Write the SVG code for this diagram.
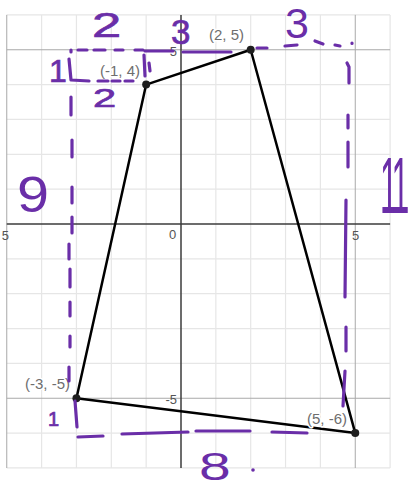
<svg xmlns="http://www.w3.org/2000/svg" width="409" height="489" viewBox="0 0 409 489">
<style>
.minor{stroke:#e6e6e6;stroke-width:1.2;fill:none}
.major{stroke:#a9a9a9;stroke-width:1;fill:none}
.axis{stroke:#3c3c3c;stroke-width:1.5;fill:none}
.tick{font-family:"Liberation Sans",Arial,sans-serif;font-size:13px;fill:#555}
.edge{stroke:#000;stroke-width:2.5;fill:none;stroke-linecap:round}
.pt{fill:#1e1e1e}
.lbl{font-family:"Liberation Sans",Arial,sans-serif;font-size:15px;fill:#6e6e6e;text-anchor:end;stroke:#fff;stroke-width:3;paint-order:stroke;stroke-linejoin:round}
.pen{stroke:#6a2ea8;stroke-width:3.2;fill:none;stroke-linecap:round;stroke-linejoin:round}
.hw{font-family:"Liberation Sans",Arial,sans-serif;fill:#6a2ea8}
.hs{stroke:#6a2ea8;stroke-width:0.7}
</style>
<rect width="409" height="489" fill="#fff"/>
<g id="grid">
<path class="minor" d="M41.6 14.9V468M111.3 14.9V468M146.15 14.9V468M215.85 14.9V468M250.7 14.9V468M285.55 14.9V468M320.4 14.9V468M390.1 14.9V468M76.45 14.9V468"/>
<path class="minor" d="M6.75 14.9H390.1M6.75 84.6H390.1M6.75 119.45H390.1M6.75 154.3H390.1M6.75 189.15H390.1M6.75 258.85H390.1M6.75 293.7H390.1M6.75 328.55H390.1M6.75 363.4H390.1M6.75 433.1H390.1M6.75 467.95H390.1"/>
<path class="major" d="M6.75 14.9V468M355.25 14.9V468M6.75 49.75H390.1M6.75 398.25H390.1"/>
<path class="axis" d="M181 14.9V468M6.75 224H390.1"/>
<text class="tick" x="9" y="240" text-anchor="end">5</text>
<text class="tick" x="172.5" y="239" text-anchor="middle">0</text>
<text class="tick" x="355.5" y="240" text-anchor="middle">5</text>
<text class="tick" x="177" y="56" text-anchor="end">5</text>
<text class="tick" x="177" y="404" text-anchor="end">-5</text>
</g>
<g id="connectors">
<line class="edge" x1="146.15" y1="84.6" x2="250.7" y2="49.75"/>
<line class="edge" x1="250.7" y1="49.75" x2="355.25" y2="433.1"/>
<line class="edge" x1="355.25" y1="433.1" x2="76.45" y2="398.25"/>
<line class="edge" x1="76.45" y1="398.25" x2="146.15" y2="84.6"/>
</g>
<g id="node-A">
<circle class="pt" cx="250.7" cy="49.75" r="4"/>
<text class="lbl" x="244" y="40">(2, 5)</text>
</g>
<g id="node-B">
<circle class="pt" cx="146.15" cy="84.6" r="4"/>
<text class="lbl" x="140" y="76">(-1, 4)</text>
</g>
<g id="node-C">
<circle class="pt" cx="76.45" cy="398.25" r="4"/>
<text class="lbl" x="70" y="389">(-3, -5)</text>
</g>
<g id="node-D">
<circle class="pt" cx="355.25" cy="433.1" r="4"/>
<text class="lbl" x="347" y="424">(5, -6)</text>
</g>
<g id="annotations">
<path class="pen" d="M71 50V52M78 50H87M94 50H105M115 50H123M135 50H143M145 51H173M183 52H231M144 55L145 76M149 63L150 71M257 48H267M285 46L297 45M315 41L323 44M335 45L340 46M352 43V43.5"/>
<path class="pen" d="M69 59L71 80L89 81M98 81H108M112 81H120M125 81H133"/>
<path class="pen" d="M71 97V115M72 140V157M72 187V203M72 217V233M69 244V259M70 269V287M70 302V316M70 336V347M69 367V381M75 401L77 427M78 437L103 436M122 434L188 432M196 431L250 431M272 432L307 433"/>
<path class="pen" d="M347 63L349 67V83M348 115V128M348 142V167M346 200L345 297M346 327V351M345 371L343 406"/>
<circle cx="253" cy="470" r="1.8" fill="#6a2ea8"/>
<text class="hw hs" font-size="35" transform="translate(92,37) scale(1.5,1)">2</text>
<text class="hw hs" font-size="35" transform="translate(171,44)">3</text>
<text class="hw" font-size="43" transform="translate(285,38)">3</text>
<text class="hw hs" font-size="26" transform="translate(93,107) scale(1.6,1)">2</text>
<text class="hw hs" font-size="32" x="49" y="82">1</text>
<text class="hw" font-size="50" transform="translate(17,212) scale(1.15,1)">9</text>
<text class="hw" font-size="80" letter-spacing="-10" transform="translate(380,213) scale(0.4,1)">11</text>
<text class="hw" font-size="38" transform="translate(199,480) scale(1.5,1)">8</text>
<text class="hw hs" font-size="20" x="48" y="426">1</text>
</g>
</svg>
